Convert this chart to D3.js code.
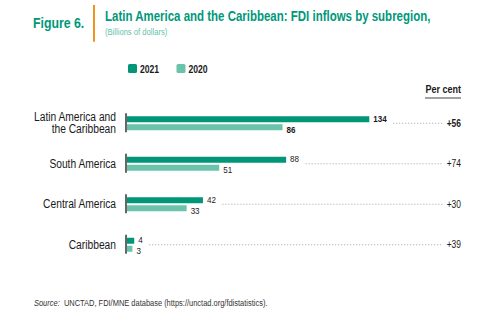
<!DOCTYPE html>
<html>
<head>
<meta charset="utf-8">
<script src="https://cdn.jsdelivr.net/npm/d3@7"></script>
<style>
  html, body { margin: 0; padding: 0; background: #fff; }
  svg { display: block; font-family: 'Liberation Sans Narrow', 'Arial Narrow', 'Liberation Sans', sans-serif; }
</style>
</head>
<body>
<svg id="chart" width="504" height="323"></svg>
<script>
// FDI inflows by subregion, billions of dollars
const regions = ['Latin America and the Caribbean', 'South America', 'Central America', 'Caribbean'];
const regionLines = [['Latin America and', 'the Caribbean'], ['South America'], ['Central America'], ['Caribbean']];
const years = ['2021', '2020'];
const values2021 = [134, 88, 42, 4];
const values2020 = [86, 51, 33, 3];
const pctChange = ['+56', '+74', '+30', '+39'];

const colors = { '2021': '#009677', '2020': '#6cc3ab' };
const teal = '#00977a';
const ink = '#1a1a1a';

// sin fuente estrecha instalada: se comprime el texto en horizontal sobre su x
const K = 0.82;
function narrow(sel, k = K) {
  sel.each(function () {
    const x0 = +this.getAttribute('x') || 0;
    this.setAttribute('transform', `translate(${x0 * (1 - k)},0) scale(${k},1)`);
  });
  return sel;
}

const svg = d3.select('#chart');

// Cabecera
svg.append('text').attr('x', 33).attr('y', 28.5)
  .attr('font-size', 14.5).attr('font-weight', 'bold').attr('fill', teal)
  .text('Figure 6.').call(narrow, 0.85);
svg.append('line').attr('x1', 94).attr('x2', 94).attr('y1', 5).attr('y2', 41.7)
  .attr('stroke', '#f0921e').attr('stroke-width', 2);
svg.append('text').attr('x', 105).attr('y', 20.8)
  .attr('font-size', 14).attr('font-weight', 'bold').attr('fill', teal)
  .text('Latin America and the Caribbean: FDI inflows by subregion,').call(narrow);
svg.append('text').attr('x', 105).attr('y', 35.5)
  .attr('font-size', 9.3).attr('fill', '#62c2aa')
  .text('(Billions of dollars)').call(narrow);

// Leyenda
const legend = svg.append('g').attr('transform', 'translate(128,64)');
years.forEach((yr, i) => {
  const g = legend.append('g').attr('transform', `translate(${i * 48.5},0)`);
  g.append('rect').attr('width', 9).attr('height', 9).attr('rx', 1.5).attr('fill', colors[yr]);
  g.append('text').attr('x', 12).attr('y', 8.5).attr('font-size', 10.5)
    .attr('font-weight', 'bold').attr('fill', ink).text(yr).call(narrow);
});

// Escalas
const x = d3.scaleLinear().domain([0, 134]).range([127, 369.3]);
const y = d3.scalePoint().domain(regions).range([103, 265]).padding(0.5);
const yInner = d3.scaleBand().domain(years).range([-7, 7]).paddingInner(0.25);

const rows = regions.map((r, i) => ({
  region: r, lines: regionLines[i], pct: pctChange[i], bold: i === 0,
  bars: [{ year: '2021', value: values2021[i] }, { year: '2020', value: values2020[i] }]
}));

// "Per cent"
svg.append('text').attr('x', 461).attr('y', 93).attr('text-anchor', 'end')
  .attr('font-size', 11).attr('font-weight', 'bold').attr('fill', ink).text('Per cent').call(narrow);
svg.append('line').attr('x1', 425).attr('x2', 461).attr('y1', 98).attr('y2', 98)
  .attr('stroke', '#444').attr('stroke-width', 1.2);

const groups = svg.selectAll('g.row').data(rows).join('g')
  .attr('class', 'row')
  .attr('transform', d => `translate(0,${y(d.region)})`);

// Etiquetas de subregión
groups.append('text')
  .attr('x', 116).attr('text-anchor', 'end')
  .attr('font-size', 12.5).attr('fill', ink)
  .each(function (d) {
    const t = d3.select(this);
    const lh = 12.3;
    const y0 = -(d.lines.length - 1) * lh / 2 + 3.9;
    d.lines.forEach((ln, k) => {
      t.append('tspan').attr('x', 116).attr('y', y0 + k * lh).text(ln);
    });
  })
  .call(narrow);

// Barras
groups.selectAll('rect').data(d => d.bars).join('rect')
  .attr('x', x(0))
  .attr('y', d => yInner(d.year))
  .attr('width', d => x(d.value) - x(0))
  .attr('height', yInner.bandwidth())
  .attr('fill', d => colors[d.year]);

// Eje vertical por grupo
groups.append('line')
  .attr('x1', 126).attr('x2', 126).attr('y1', -10).attr('y2', 9)
  .attr('stroke', '#333').attr('stroke-width', 1.5);

// Valores, línea de puntos y variación porcentual
groups.each(function (d) {
  const g = d3.select(this);
  const labels = g.selectAll('text.val').data(d.bars).join('text')
    .attr('class', 'val')
    .attr('x', b => x(b.value) + 4)
    .attr('y', b => yInner(b.year) + yInner.bandwidth() / 2 + (b.year === '2021' ? 2.7 : 5.5))
    .attr('font-size', 9.8)
    .attr('font-weight', d.bold ? 'bold' : 'normal')
    .attr('fill', ink)
    .text(b => b.value)
    .call(narrow);

  const first = labels.nodes()[0];
  const bb = first.getBBox();
  const x0 = +first.getAttribute('x');
  const labelEnd = x0 + K * (bb.x + bb.width - x0);
  g.append('line')
    .attr('x1', labelEnd + 6.5).attr('x2', 443)
    .attr('y1', 0).attr('y2', 0)
    .attr('stroke', '#9a9a9a').attr('stroke-width', 0.9)
    .attr('stroke-dasharray', '1,2');

  g.append('text')
    .attr('x', 461).attr('y', 3.6).attr('text-anchor', 'end')
    .attr('font-size', 10.3)
    .attr('font-weight', d.bold ? 'bold' : 'normal')
    .attr('fill', ink)
    .text(d.pct)
    .call(narrow);
});

// Fuente
const src = svg.append('text').attr('x', 34).attr('y', 306)
  .attr('font-size', 9).attr('fill', '#333');
src.append('tspan').attr('font-style', 'italic').text('Source:');
src.append('tspan').text('\u00a0 UNCTAD, FDI/MNE database (https://unctad.org/fdistatistics).');
src.call(narrow, 0.83);
</script>
</body>
</html>
